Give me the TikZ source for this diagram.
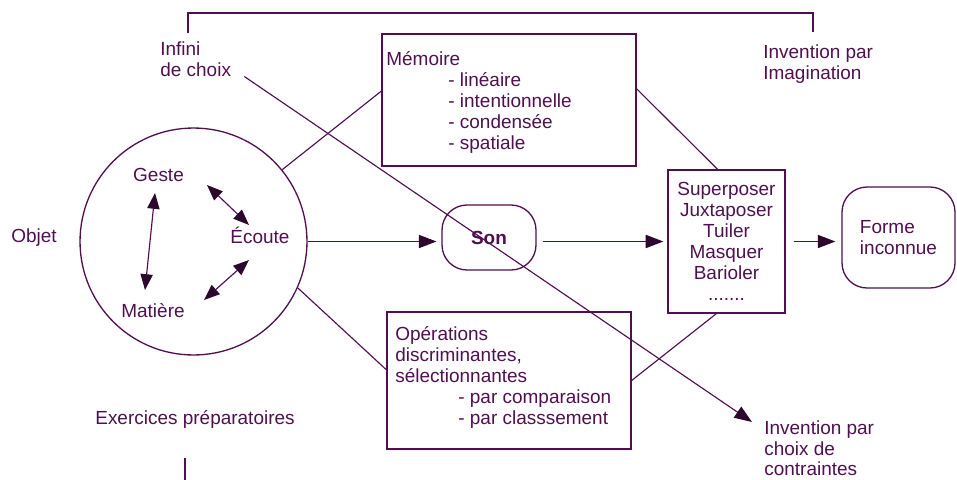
\documentclass[tikz,border=0pt]{standalone}
\usepackage{fontspec}
\setmainfont{Liberation Sans}
\usetikzlibrary{arrows.meta}
\definecolor{encre}{RGB}{80,16,80}
\def\corps{\fontsize{10.8}{11.9}\selectfont}
\tikzset{
  texte/.style={font=\corps, text=encre, inner sep=0pt},
  boite/.style={draw=encre, line width=0.75pt, rectangle},
  trait/.style={draw=encre, line width=0.65pt},
  fleche/.style={trait, -{Triangle[length=10pt,width=7.5pt,color=encre!55!black]}},
  fleches/.style={trait, {Triangle[length=9pt,width=7pt,color=encre!55!black]}-{Triangle[length=9pt,width=7pt,color=encre!55!black]}},
}

\begin{document}
\begin{tikzpicture}[x=0.02cm, y=-0.02cm, every node/.style={texte}]
  \useasboundingbox (0,0) rectangle (957,480);
  % l'objet : geste, ecoute, matiere
  \node[boite, circle, minimum size=4.54cm] (cercle) at (193.5,241.5) {};
  \node[anchor=base] (geste) at (158.5,181) {Geste};
  \node[anchor=base] (ecoute) at (260,243) {Écoute};
  \node[anchor=base] (matiere) at (153,317) {Matière};
  \node[anchor=base west] (objet) at (11,242) {Objet};
  \node[anchor=base west] (exercices) at (95,424) {Exercices préparatoires};

  % boites
  \node[boite, minimum width=5.08cm, minimum height=2.64cm] (memoire) at (509,100) {};
  \node[anchor=base west] (memtitre) at (386,65) {Mémoire};
  \node[anchor=north west, align=left] (memliste) at (448,72.5)
    {- linéaire\\- intentionnelle\\- condensée\\- spatiale};
  \node[boite, minimum width=4.88cm, minimum height=2.74cm] (ops) at (509,380.5) {};
  \node[anchor=north west, align=left] (opstitre) at (395,326.3)
    {Opérations\\discriminantes,\\sélectionnantes};
  \node[anchor=north west, align=left] (opsliste) at (458,389.5)
    {- par comparaison\\- par classsement};
  \node[boite, rounded corners=0.5cm, minimum width=1.88cm, minimum height=1.3cm,
    font=\corps\bfseries] (son) at (489,237.5) {Son};
  \node[boite, minimum width=2.34cm, minimum height=2.86cm, align=center] (proc) at (726.5,241.5)
    {Superposer\\Juxtaposer\\Tuiler\\Masquer\\Barioler\\.......};
  \node[boite, rounded corners=0.5cm, minimum width=2.26cm, minimum height=2.02cm,
    align=left] (forme) at (898.5,237.5) {Forme\\inconnue};

  % invention
  \node[anchor=north west, align=left] (infini) at (160,41) {Infini\\de choix};
  \node[anchor=north west, align=left] (imagination) at (763,44) {Invention par\\Imagination};
  \node[anchor=north west, align=left] (contraintes) at (764,420)
    {Invention par\\choix de\\contraintes};
  \coordinate (crochetg) at (188,33);
  \coordinate (crochetd) at (813,32);
  \draw[trait] (crochetg) -- ++(0,-20) -| (crochetd);
  \coordinate (exohaut) at (185,458);
  \coordinate (exobas) at (185,480);
  \draw[trait] (exohaut) -- (exobas);

  % fleches
  \draw[fleches] ([shift={(-3.5,12)}]geste.base) -- ([shift={(-8,-27)}]matiere.base);
  \draw[fleches] ([shift={(48.5,4)}]geste.base) -- ([shift={(-11,-18)}]ecoute.base);
  \draw[fleches] ([shift={(-11,17)}]ecoute.base) -- ([shift={(51,-17)}]matiere.base);
  \draw[fleche, shorten >=2.8pt] (cercle.east) -- (cercle.east -| son.west);
  \draw[fleche, shorten <=3.4pt, shorten >=2.3pt] (son.east |- cercle.east) -- (cercle.east -| proc.west);
  \draw[fleche, shorten <=4.5pt, shorten >=3.4pt] (proc.east) -- (proc.east -| forme.west);
  \draw[fleche] ([shift={(13,0)}]infini.south east) -- ([shift={(-12,2)}]contraintes.north west);

  % liaisons
  \draw[trait] (memoire.176) -- (cercle.39);
  \draw[trait] (memoire.5) -- (proc.97);
  \draw[trait] (cercle.336) -- (ops.175);
  \draw[trait] (ops.east) -- (proc.262);
\end{tikzpicture}
\end{document}
